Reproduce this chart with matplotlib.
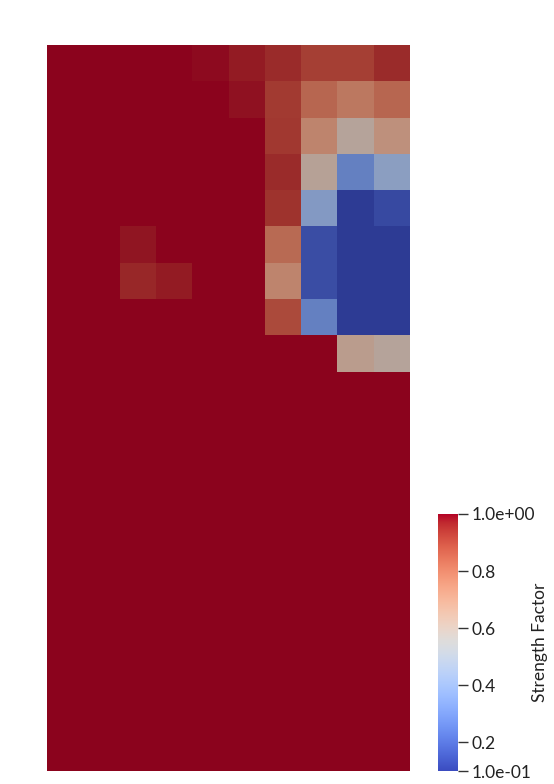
import matplotlib
matplotlib.use("Agg")
import matplotlib.pyplot as plt
import numpy as np
from matplotlib.colors import ListedColormap, Normalize

# Strength factor per cell (top row first), 20 rows x 10 columns
row0 = [1, 1, 1, 1, 0.99, 0.975, 0.95, 0.91, 0.91, 0.95]
row1 = [1, 1, 1, 1, 1, 0.985, 0.92, 0.82, 0.77, 0.82]
row2 = [1, 1, 1, 1, 1, 1, 0.925, 0.73, 0.60, 0.69]
row3 = [1, 1, 1, 1, 1, 1, 0.95, 0.61, 0.30, 0.43]
row4 = [1, 1, 1, 1, 1, 1, 0.935, 0.40, 0.10, 0.14]
row5 = [1, 1, 0.98, 1, 1, 1, 0.81, 0.15, 0.10, 0.10]
row6 = [1, 1, 0.955, 0.975, 1, 1, 0.73, 0.15, 0.10, 0.10]
row7 = [1, 1, 1, 1, 1, 1, 0.885, 0.30, 0.10, 0.10]
row8 = [1, 1, 1, 1, 1, 1, 1, 1, 0.64, 0.60]
rest_rows = [[1] * 10 for _ in range(11)]

cbar_ticks = [1.0, 0.8, 0.6, 0.4, 0.2, 0.1]
cbar_ticklabels = ["1.0e+00", "0.8", "0.6", "0.4", "0.2", "1.0e-01"]
cbar_title = "Strength Factor"
vmin, vmax = 0.1, 1.0

grid = np.array([row0, row1, row2, row3, row4, row5, row6, row7, row8] + rest_rows, dtype=float)

base = plt.get_cmap("coolwarm")
cols = base(np.linspace(0, 1, 256))
lit = cols.copy()
lit[:, :3] *= 0.77
lit_cmap = ListedColormap(lit)
norm = Normalize(vmin, vmax)

plt.rcParams["font.family"] = ["Lato", "DejaVu Sans"]

fig = plt.figure(figsize=(5.54, 7.84), dpi=100)
W, H = 554, 784
ax = fig.add_axes([47 / W, (H - 771) / H, 363 / W, 726 / H])
ax.pcolormesh(np.arange(11), np.arange(21), grid[::-1], cmap=lit_cmap, norm=norm,
              shading="flat", antialiased=False)
ax.set_xlim(0, 10)
ax.set_ylim(0, 20)
ax.axis("off")

cax = fig.add_axes([438 / W, (H - 771) / H, 20 / W, 257 / H])
sm = plt.cm.ScalarMappable(norm=norm, cmap=base)
cb = fig.colorbar(sm, cax=cax)
cb.outline.set_visible(False)
cb.set_ticks(cbar_ticks)
cb.set_ticklabels(cbar_ticklabels)
cax.tick_params(axis="y", length=7, width=1, color="#333333", labelsize=12.5,
                labelcolor="#222222", pad=2.5)
fig.text(540 / W, (H - 642) / H, cbar_title, rotation=90, fontsize=12.5,
         color="#222222", ha="center", va="center")

fig.savefig("out.png", dpi=100)
